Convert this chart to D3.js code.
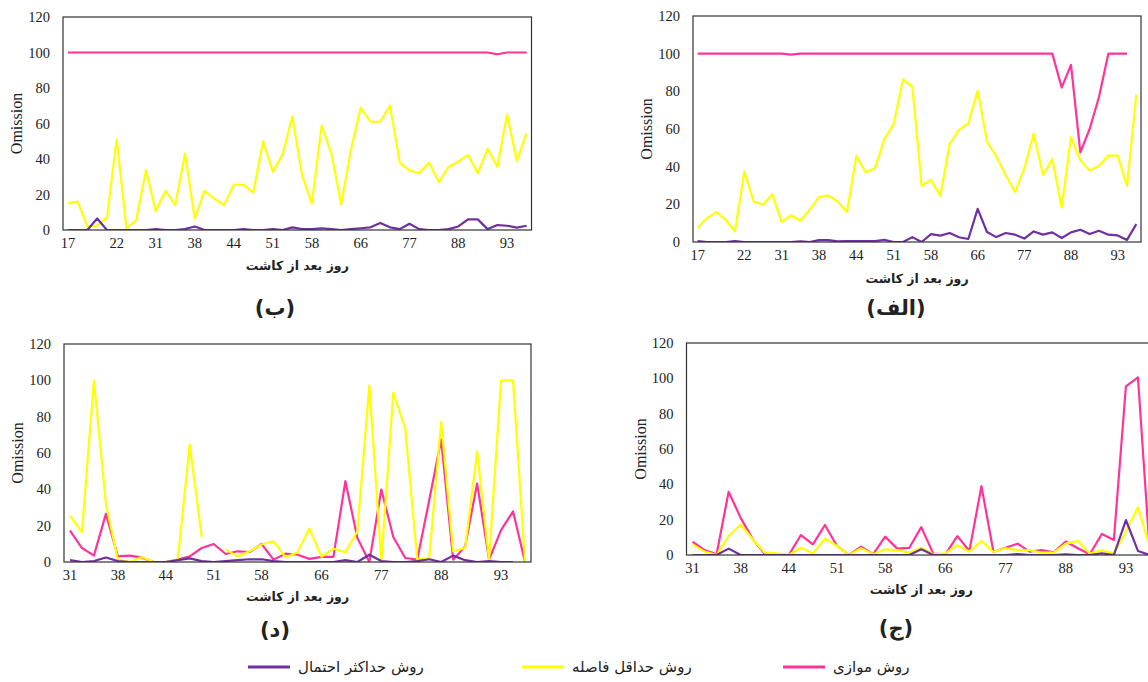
<!DOCTYPE html>
<html>
<head>
<meta charset="utf-8">
<script src="https://cdn.jsdelivr.net/npm/d3@7"></script>
<style>
body { margin: 0; background: #fff; }
svg text { font-family: "Liberation Serif", "DejaVu Serif", serif; fill: #222; }
svg text.fa { font-family: "DejaVu Sans", sans-serif; }
</style>
</head>
<body>
<svg id="chart" width="1148" height="682"></svg>
<script>
// category ticks (days after planting)
const topTicks = [0, 5, 9, 13, 17, 21, 25, 30, 35, 40, 45]
const topTickLabels = ['17', '22', '31', '38', '44', '51', '58', '66', '77', '88', '93']
const bottomTicks = [0, 4, 8, 12, 16, 21, 26, 31, 36]
const bottomTickLabels = ['31', '38', '44', '51', '58', '66', '77', '88', '93']
const yTicks = [0, 20, 40, 60, 80, 100, 120]

const seriesNames = ['روش موازی', 'روش حداقل فاصله', 'روش حداکثر احتمال']
const seriesColors = ['#ff3399', '#ffff00', '#7030a0']

// (الف)
const alfPink = [100,100,100,100,100,100,100,100,100,100,99.5,100,100,100,100,100,100,100,100,100,100,100,100,100,
  100,100,100,100,100,100,100,100,100,100,100,100,100,100,100,82,94,47.6,60,77,100,100,100,null]
const alfYellow = [7.4,12.7,15.9,11.8,5.6,37.4,21.5,19.8,25.4,10.6,14.1,11.3,17.1,23.8,24.7,21.5,15.9,45.7,37,39.2,54.5,62.6,86.3,82.4,
  29.8,33,24.5,52,59.5,63,80.3,53.3,45.4,35.6,26.5,39.2,57.5,35.6,44,18.3,55.6,43.4,37.9,40.5,45.9,45.9,29.8,78.2]
const alfPurple = [0.5,0,0,0,0.5,0,0,0,0,0,0,0.3,0,1,1,0.3,0.5,0.5,0.5,0.5,1.2,0,0,2.6,
  0,4.2,3.4,4.8,2.5,1.6,17.6,5.3,2.6,4.8,3.9,1.8,5.6,3.9,5.1,2.1,5.1,6.5,4.2,6,3.9,3.5,1.1,9.5]

// (ب)
const bePink = [100,100,100,100,100,100,100,100,100,100,100,100,100,100,100,100,100,100,100,100,100,100,100,100,
  100,100,100,100,100,100,100,100,100,100,100,100,100,100,100,100,100,100,100,100,99,100,100,100]
const beYellow = [15,16,2,2.5,7,51,1,5.5,33.6,10.7,22,14,43,6.4,22,17.6,14,25.5,25.5,21,50,32.7,42.6,64,
  30.8,15,59,43,14.5,45,69,61,61,70,38,33.6,32,38,27,35.5,38.5,42.3,32,45.7,35.6,65,39,54.5]
const bePurple = [0,0,0,6.5,0,0,0,0,0,0.5,0,0,0.5,2,0,0,0,0,0.5,0,0,0.5,0,1.5,
  0.5,0.5,1,0.5,0,0.5,1,1.5,4,1.5,0.5,3.5,0.5,0,0,0.5,2,6,6,0.5,2.8,2.4,1.3,2.4]

// (ج)
const jimPink = [7.5,2.8,0.4,35.8,21,9,0.5,0.4,0,11.3,6,17,5.1,0,4.7,0.4,10.4,3.6,4,15.8,
  0.8,0.4,10.7,2.3,39,1.7,4.1,6.4,1.9,2.8,1.5,7.6,3.8,0.4,11.9,8.5,95.5,100.5,0]
const jimYellow = [6,1.9,0,10.7,17.3,8.9,1.3,0.9,0,4.1,0.9,9.2,5.1,0,3.8,0.4,3.2,2.6,1.3,4.1,
  0.4,0.9,5.5,1.9,7.9,1.7,3.8,2.8,2.8,1.3,1.3,6.4,7.9,0.8,2.6,0.9,13,27,4]
const jimPurple = [0,0,0,3.6,0,0,0,0,0,0,0,0,0,0,0,0,0,0,0,3.2,
  0,0,0,0,0,0,0,0.5,0,0,0,0.3,0,0,1,0,19.8,2.3,0]

// (د)
const dalPink = [17.3,7.7,3.5,26.5,3.1,3.5,2.4,0,0,1.3,3.1,7.7,9.9,4.4,5.9,5.5,9.9,1.3,4.6,4,
  1.7,2.8,2.8,44.5,13.2,0,39.9,13.8,2.2,1.3,34,67.4,1.3,8.6,43.2,1.3,17.5,27.9,0]
const dalYellow = [25.5,16.5,100,32,1.3,0,2.8,0,0,1.3,64.7,13.8,null,6.8,3.1,5.9,9.6,11.4,2.6,5.3,
  18.4,2.8,7.4,5.3,16.9,97.2,0,93.2,73.5,1.3,2,77.2,5.9,7.7,60.6,1.3,100,100,0]
const dalPurple = [1,0,0.5,2.5,0.5,0,0,0,0,1,2,0.5,0,0.5,1,1.5,1.5,0.5,0,0,
  0,0,0,1,0,4,0.5,0,0,0.5,1.5,0,3.5,1,0,0.5,0,0,null]

const panels = [
  { id: 'be', series: [bePink, beYellow, bePurple], ticks: topTicks, labels: topTickLabels,
    x0: 63, x1: 531.5, y0: 17, y1: 230, tag: '(ب)', tagX: 275, tagY: 315, titleY: 270 },
  { id: 'alf', series: [alfPink, alfYellow, alfPurple], ticks: topTicks, labels: topTickLabels,
    x0: 693, x1: 1141, y0: 16, y1: 242, tag: '(الف)', tagX: 896, tagY: 315, titleY: 283 },
  { id: 'dal', series: [dalPink, dalYellow, dalPurple], ticks: bottomTicks, labels: bottomTickLabels,
    x0: 64, x1: 531, y0: 344, y1: 562, tag: '(د)', tagX: 275, tagY: 637, titleY: 601 },
  { id: 'jim', series: [jimPink, jimYellow, jimPurple], ticks: bottomTicks, labels: bottomTickLabels,
    x0: 686.5, x1: 1156, y0: 343, y1: 555, tag: '(ج)', tagX: 896, tagY: 635, titleY: 594 }
]

const svg = d3.select('#chart')

panels.forEach(p => {
  const n = p.series[1].length
  const x = d3.scaleBand().domain(d3.range(n)).range([p.x0, p.x1])
  const y = d3.scaleLinear().domain([0, 120]).range([p.y1, p.y0])
  const g = svg.append('g')

  g.append('clipPath').attr('id', 'clip-' + p.id)
    .append('rect')
    .attr('x', p.x0).attr('y', p.y0)
    .attr('width', p.x1 - p.x0).attr('height', p.y1 - p.y0)

  const line = d3.line()
    .defined(d => d != null)
    .x((d, i) => x(i) + x.bandwidth() / 2)
    .y(d => y(d))

  p.series.forEach((s, k) => {
    g.append('path')
      .attr('clip-path', 'url(#clip-' + p.id + ')')
      .attr('d', line(s))
      .attr('fill', 'none')
      .attr('stroke', seriesColors[k])
      .attr('stroke-width', 2.2)
      .attr('stroke-linejoin', 'round')
  })

  g.append('rect')
    .attr('x', p.x0).attr('y', p.y0)
    .attr('width', p.x1 - p.x0).attr('height', p.y1 - p.y0)
    .attr('fill', 'none').attr('stroke', '#333').attr('stroke-width', 1.2)

  const yAxis = g.append('g')
    .attr('transform', `translate(${p.x0},0)`)
    .call(d3.axisLeft(y).tickValues(yTicks).tickSize(0).tickPadding(13))
  const xAxis = g.append('g')
    .attr('transform', `translate(0,${p.y1})`)
    .call(d3.axisBottom(x).tickValues(p.ticks).tickFormat((d, i) => p.labels[i]).tickSize(0).tickPadding(8))
  ;[yAxis, xAxis].forEach(a => {
    a.select('.domain').remove()
    a.selectAll('text').attr('font-size', 14.5).attr('fill', '#222')
      .attr('font-family', '"Liberation Serif", serif')
  })

  g.append('text')
    .attr('transform', `translate(${p.x0 - 41},${(p.y0 + p.y1) / 2}) rotate(-90)`)
    .attr('text-anchor', 'middle')
    .attr('font-size', 16)
    .text('Omission')

  g.append('text').attr('class', 'fa')
    .attr('x', (p.x0 + p.x1) / 2).attr('y', p.titleY)
    .attr('text-anchor', 'middle')
    .attr('font-size', 12.5).attr('font-weight', 'bold')
    .text('روز بعد از کاشت')

  g.append('text').attr('class', 'fa')
    .attr('x', p.tagX).attr('y', p.tagY)
    .attr('text-anchor', 'middle')
    .attr('font-size', 21).attr('font-weight', 'bold')
    .attr('fill', '#111')
    .text(p.tag)
})

// legend
const legendX = [248, 522, 783].reverse()
const legend = svg.append('g')
seriesNames.forEach((name, k) => {
  legend.append('line')
    .attr('x1', legendX[k]).attr('x2', legendX[k] + 42)
    .attr('y1', 667).attr('y2', 667)
    .attr('stroke', seriesColors[k]).attr('stroke-width', 3)
  legend.append('text').attr('class', 'fa')
    .attr('x', legendX[k] + 50).attr('y', 672)
    .attr('font-size', 15)
    .text(name)
})
</script>
</body>
</html>
